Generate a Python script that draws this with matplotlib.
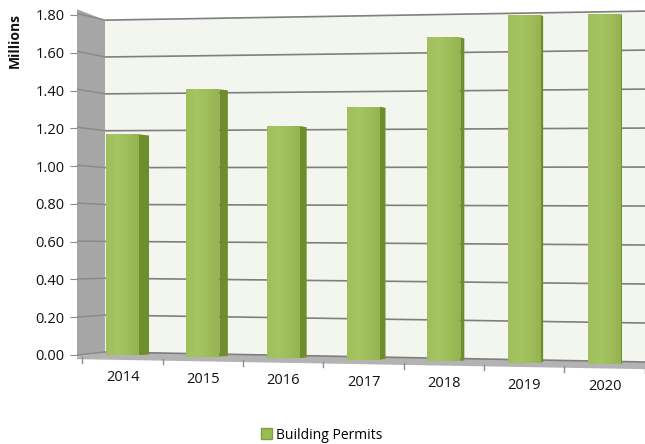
import matplotlib.pyplot as plt
import numpy as np
from matplotlib.colors import LinearSegmentedColormap
from matplotlib.patches import Polygon, Patch

plt.rcParams['font.family'] = ['Open Sans', 'DejaVu Sans']

years = ['2014', '2015', '2016', '2017', '2018', '2019', '2020']
permits = [1.18, 1.42, 1.22, 1.32, 1.68, 1.79, 1.79]   # millions
y_ticks = [0.0, 0.2, 0.4, 0.6, 0.8, 1.0, 1.2, 1.4, 1.6, 1.8]
y_labels = ['0.00', '0.20', '0.40', '0.60', '0.80', '1.00', '1.20', '1.40', '1.60', '1.80']

X_MIN, X_MAX = -0.567, 6.504
X_WALL = -0.218          # where the side wall meets the back wall
BAR_W = 0.41


def proj(v, x):
    # fake perspective: the back wall gets slightly taller towards the right
    t = (x - X_WALL) / (X_MAX - X_WALL)
    return (0.016 + 0.976 * v) * (1 - t) + (-0.037 + 1.032 * v) * t


fig = plt.figure(figsize=(6.45, 4.44), dpi=100)
ax = fig.add_axes([77 / 645, (444 - 372) / 444, 568 / 645, 364 / 444])

# back wall
xs = np.linspace(X_WALL, X_MAX, 50)
wall = Polygon(list(zip(xs, proj(0, xs))) + list(zip(xs[::-1], proj(1.8, xs[::-1]))),
               closed=True, facecolor='#f3f6ef', edgecolor='none', zorder=0)
ax.add_patch(wall)

# side wall on the left
side = Polygon([(X_MIN, -0.01), (X_WALL, proj(0, X_WALL)),
                (X_WALL, proj(1.8, X_WALL)), (X_MIN, 1.8 * 1.017)],
               closed=True, facecolor='#a6a6a6', edgecolor='none', zorder=0)
ax.add_patch(side)

# floor
floor = Polygon([(X_MIN, -0.01), (X_WALL, proj(0, X_WALL)), (X_MAX, proj(0, X_MAX)),
                 (X_MAX, proj(0, X_MAX) - 0.038), (X_MIN, -0.022)],
                closed=True, facecolor='#b3b3b3', edgecolor='none', zorder=1)
ax.add_patch(floor)

# gridlines run across the side wall and the back wall
for v in y_ticks:
    ax.plot([X_MIN, X_WALL], [v * 1.005, proj(v, X_WALL)],
            color='#8a8a8a', lw=1.1, zorder=1, solid_capstyle='butt')
    ax.plot([X_WALL, X_MAX], [proj(v, X_WALL), proj(v, X_MAX)],
            color='#7f7f7f', lw=1.2, zorder=1, solid_capstyle='butt')

# bars
x = np.arange(len(years))
base = proj(0, x) - 0.015
tops = proj(np.array(permits), x)
bars = ax.bar(x, tops - base, bottom=base, width=BAR_W, color='#9bbb59',
              edgecolor='none', zorder=3)

front_cmap = LinearSegmentedColormap.from_list('front', ['#a0bf5c', '#a5c462', '#9fbe5b', '#94b450'])
grad = np.linspace(0, 1, 64).reshape(1, -1)
for i, b in enumerate(bars):
    x0, x1 = x[i] - BAR_W / 2, x[i] + BAR_W / 2
    im = ax.imshow(grad, cmap=front_cmap, extent=(x0, x1, base[i], tops[i]),
                   aspect='auto', zorder=3.5, interpolation='bilinear')
    im.set_clip_path(b)
    # side face, thinner for bars further right
    d = (10 - 1.5 * i) / 80.3
    face = Polygon([(x1, base[i]), (x1 + d, base[i] + 0.004), (x1 + d, tops[i] - 0.006), (x1, tops[i])],
                   closed=True, facecolor='#6e8d2c', edgecolor='none', zorder=3)
    ax.add_patch(face)

# category tick marks and labels along the front edge of the floor
for i in range(len(years) + 1):
    xm = i - 0.5
    yf = proj(0, xm) - 0.03
    ax.plot([xm, xm], [yf, yf - 0.03], color='#8c8c8c', lw=1, clip_on=False, zorder=2)
for i, yr in enumerate(years):
    ax.text(i, proj(0, i) - 0.135, yr, ha='center', va='center', fontsize=10.5,
            color='#111111', clip_on=False)

ax.set_xlim(X_MIN, X_MAX)
ax.set_ylim(-0.0900, 1.837)
ax.set_xticks([])
ax.set_yticks(y_ticks)
ax.set_yticklabels(y_labels, fontsize=10.5, color='#111111')
ax.tick_params(axis='y', length=5, color='#8c8c8c', pad=4)
for s in ax.spines.values():
    s.set_visible(False)
ax.patch.set_alpha(0)

fig.text(15 / 645, 1 - 40 / 444, 'Millions', rotation=90, ha='center', va='center',
         fontsize=10, fontweight='bold', color='#111111')

fig.legend(handles=[Patch(facecolor='#9bbb59', edgecolor='#7f9f3f')], labels=['Building Permits'],
           loc='center', bbox_to_anchor=(322 / 645, 1 - 435 / 444), frameon=False, fontsize=10,
           handlelength=0.8, handleheight=0.8, handletextpad=0.3)

fig.savefig('out.png', dpi=100)
